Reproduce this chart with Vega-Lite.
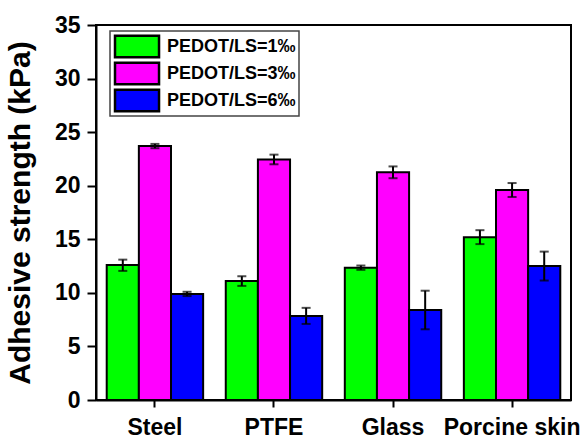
{
  "$schema": "https://vega.github.io/schema/vega-lite/v6.json",
  "autosize": "none",
  "padding": {"left": 96, "top": 25, "right": 15, "bottom": 41},
  "width": 475,
  "height": 375,
  "background": "white",
  "data": {
    "values": [
      {"substrate": "Steel", "group": "PEDOT/LS=1‰", "value": 12.6, "lo": 12.05, "hi": 13.1},
      {"substrate": "Steel", "group": "PEDOT/LS=3‰", "value": 23.7, "lo": 23.5, "hi": 23.9},
      {"substrate": "Steel", "group": "PEDOT/LS=6‰", "value": 9.9, "lo": 9.7, "hi": 10.1},
      {"substrate": "PTFE", "group": "PEDOT/LS=1‰", "value": 11.1, "lo": 10.65, "hi": 11.55},
      {"substrate": "PTFE", "group": "PEDOT/LS=3‰", "value": 22.45, "lo": 22.0, "hi": 22.9},
      {"substrate": "PTFE", "group": "PEDOT/LS=6‰", "value": 7.85, "lo": 7.1, "hi": 8.6},
      {"substrate": "Glass", "group": "PEDOT/LS=1‰", "value": 12.35, "lo": 12.15, "hi": 12.55},
      {"substrate": "Glass", "group": "PEDOT/LS=3‰", "value": 21.25, "lo": 20.7, "hi": 21.8},
      {"substrate": "Glass", "group": "PEDOT/LS=6‰", "value": 8.4, "lo": 6.6, "hi": 10.2},
      {"substrate": "Porcine skin", "group": "PEDOT/LS=1‰", "value": 15.2, "lo": 14.55, "hi": 15.85},
      {"substrate": "Porcine skin", "group": "PEDOT/LS=3‰", "value": 19.6, "lo": 18.95, "hi": 20.25},
      {"substrate": "Porcine skin", "group": "PEDOT/LS=6‰", "value": 12.5, "lo": 11.15, "hi": 13.85}
    ]
  },
  "encoding": {
    "x": {
      "field": "substrate",
      "type": "nominal",
      "sort": ["Steel", "PTFE", "Glass", "Porcine skin"],
      "scale": {"paddingInner": 0.19, "paddingOuter": 0.09},
      "axis": {
        "title": null,
        "labelAngle": 0,
        "labelFontSize": 23,
        "labelPadding": 9,
        "tickSize": 7
      }
    },
    "xOffset": {
      "field": "group",
      "type": "nominal",
      "scale": {"paddingInner": 0, "paddingOuter": 0}
    }
  },
  "layer": [
    {
      "mark": {"type": "bar", "stroke": "black", "strokeWidth": 2},
      "encoding": {
        "y": {
          "field": "value",
          "type": "quantitative",
          "scale": {"domain": [0, 35], "nice": false},
          "axis": {
            "title": "Adhesive strength (kPa)",
            "titleFontSize": 30,
            "titlePadding": 19,
            "values": [0, 5, 10, 15, 20, 25, 30, 35],
            "labelFontSize": 23,
            "labelPadding": 7,
            "tickSize": 9,
            "grid": false
          }
        },
        "color": {
          "field": "group",
          "type": "nominal",
          "scale": {
            "domain": ["PEDOT/LS=1‰", "PEDOT/LS=3‰", "PEDOT/LS=6‰"],
            "range": ["#00ff00", "#ff00ff", "#0000ff"]
          },
          "legend": {
            "title": null,
            "orient": "none",
            "legendX": 14,
            "legendY": 6,
            "symbolType": "M-1,-1.55H5.29V1.55H-1Z",
            "symbolSize": 196,
            "symbolStrokeColor": "black",
            "symbolStrokeWidth": 2.5,
            "symbolOpacity": 1,
            "labelFontSize": 18,
            "labelOffset": 36,
            "clipHeight": 25,
            "rowPadding": 2,
            "padding": 3
          }
        }
      }
    },
    {
      "mark": {"type": "rule", "color": "black", "strokeWidth": 2},
      "encoding": {
        "y": {"field": "lo", "type": "quantitative"},
        "y2": {"field": "hi"}
      }
    },
    {
      "mark": {"type": "tick", "color": "black", "thickness": 2, "size": 9},
      "encoding": {"y": {"field": "lo", "type": "quantitative"}}
    },
    {
      "mark": {"type": "tick", "color": "black", "thickness": 2, "size": 9},
      "encoding": {"y": {"field": "hi", "type": "quantitative"}}
    }
  ],
  "config": {
    "font": "Liberation Sans",
    "view": {"stroke": "black", "strokeWidth": 2},
    "axis": {
      "labelFont": "Liberation Sans",
      "labelFontWeight": "bold",
      "labelColor": "black",
      "titleFont": "Liberation Sans",
      "titleFontWeight": "bold",
      "titleColor": "black",
      "domainColor": "black",
      "domainWidth": 2,
      "tickColor": "black",
      "tickWidth": 2
    },
    "legend": {
      "labelFont": "Liberation Sans",
      "labelFontWeight": "bold",
      "labelColor": "black",
      "strokeColor": "#444",
      "strokeWidth": 1.5,
      "fillColor": "white"
    }
  }
}
